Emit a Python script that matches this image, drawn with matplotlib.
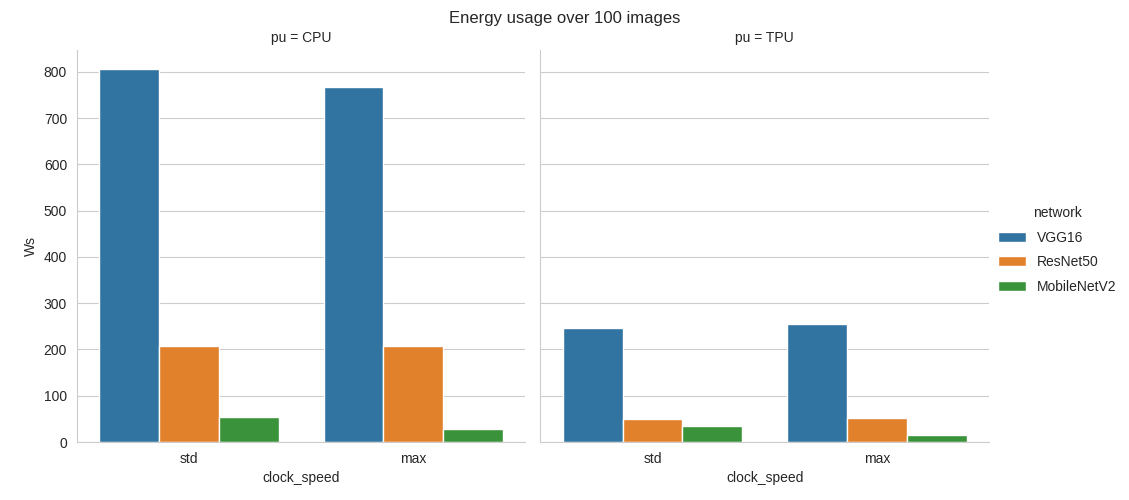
import matplotlib
matplotlib.use("Agg")
import matplotlib.pyplot as plt
import seaborn as sns
import pandas as pd

pus = ["CPU", "TPU"]
clock_speeds = ["std", "max"]
networks = ["VGG16", "ResNet50", "MobileNetV2"]

cpu_std = [807, 208, 53]
cpu_max = [768, 208, 27.5]
tpu_std = [247, 49, 35]
tpu_max = [256, 52, 15]

rows = []
for pu, vals_by_clock in zip(pus, [[cpu_std, cpu_max], [tpu_std, tpu_max]]):
    for cs, vals in zip(clock_speeds, vals_by_clock):
        for net, v in zip(networks, vals):
            rows.append({"pu": pu, "clock_speed": cs, "network": net, "Ws": v})
df = pd.DataFrame(rows)

sns.set_style("whitegrid")
plt.rcParams["font.family"] = ["Liberation Sans", "DejaVu Sans"]
plt.rcParams["font.sans-serif"] = ["Liberation Sans", "DejaVu Sans"]
plt.rcParams["legend.labelspacing"] = 0.75

g = sns.catplot(data=df, x="clock_speed", y="Ws", hue="network", col="pu",
                kind="bar", hue_order=networks, order=clock_speeds,
                col_order=pus, height=5, aspect=1, errorbar=None,
                palette="tab10")
g.fig.suptitle("Energy usage over 100 images", fontsize=12, y=0.978)
g.fig.set_size_inches(11.29, 5)
g.fig.subplots_adjust(left=0.068, right=0.876, top=0.9, bottom=0.116, wspace=0.033)
g.fig.savefig("out.png", dpi=100)
